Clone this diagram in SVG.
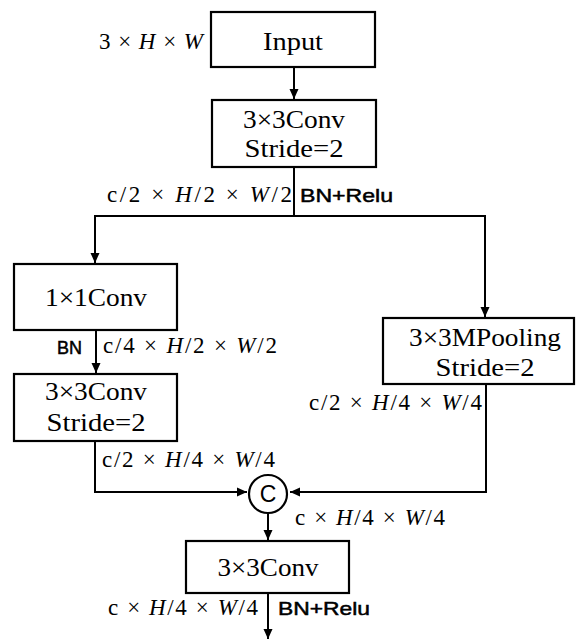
<svg xmlns="http://www.w3.org/2000/svg" width="576" height="639" viewBox="0 0 576 639">
<defs>
<marker id="ah" markerUnits="userSpaceOnUse" markerWidth="10" markerHeight="10" refX="10" refY="5" orient="auto">
<path d="M0,0.5 L10,5 L0,9.5 Z" fill="#000"/>
</marker>
<style>
.box{fill:#fff;stroke:#000;stroke-width:2.2}
.ln{fill:none;stroke:#000;stroke-width:2}
.t{font-family:"Liberation Serif",serif;font-size:25px;fill:#000;text-anchor:middle}
.m{font-family:"Liberation Serif",serif;font-size:23px;fill:#000}
.i{font-style:italic}
.s{font-family:"Liberation Sans",Arial,sans-serif;font-size:19px;fill:#000;stroke:#000;stroke-width:0.5}
</style>
</defs>
<rect width="576" height="639" fill="#fff"/>
<g id="connectors">
<line class="ln" x1="294" y1="67" x2="294" y2="99" marker-end="url(#ah)"/>
<polyline class="ln" points="294,167 294,216"/>
<polyline class="ln" points="485,216 95,216 95,263" marker-end="url(#ah)"/>
<line class="ln" x1="485" y1="215" x2="485" y2="317" marker-end="url(#ah)"/>
<line class="ln" x1="96" y1="330" x2="96" y2="373" marker-end="url(#ah)"/>
<polyline class="ln" points="95,441 95,492 247,492" marker-end="url(#ah)"/>
<polyline class="ln" points="486,384 486,492 290,492" marker-end="url(#ah)"/>
<line class="ln" x1="268" y1="513" x2="268" y2="540" marker-end="url(#ah)"/>
<line class="ln" x1="268" y1="593" x2="268" y2="639" marker-end="url(#ah)"/>
</g>
<g id="input">
<rect class="box" x="211" y="12" width="164" height="55"/>
<text class="t" x="293" y="50" font-size="27" textLength="60" lengthAdjust="spacingAndGlyphs">Input</text>
<text class="m" x="99" y="49" textLength="104" lengthAdjust="spacing">3 × <tspan class="i">H</tspan> × <tspan class="i">W</tspan></text>
</g>
<g id="conv1">
<rect class="box" x="212" y="100" width="164" height="67"/>
<text class="t" x="294" y="128" textLength="102" lengthAdjust="spacingAndGlyphs">3×3Conv</text>
<text class="t" x="294" y="157" textLength="99" lengthAdjust="spacingAndGlyphs">Stride=2</text>
<text class="m" x="107" y="202" textLength="185" lengthAdjust="spacing">c/2 × <tspan class="i">H</tspan>/2 × <tspan class="i">W</tspan>/2</text>
<text class="s" x="300" y="202" textLength="93" lengthAdjust="spacingAndGlyphs">BN+Relu</text>
</g>
<g id="conv1x1">
<rect class="box" x="14" y="264" width="163" height="66"/>
<text class="t" x="96" y="306" textLength="102" lengthAdjust="spacingAndGlyphs">1×1Conv</text>
<text class="s" x="57" y="354" font-size="17" textLength="25" lengthAdjust="spacingAndGlyphs">BN</text>
<text class="m" x="103" y="353" textLength="174" lengthAdjust="spacing">c/4 × <tspan class="i">H</tspan>/2 × <tspan class="i">W</tspan>/2</text>
</g>
<g id="conv3x3s2">
<rect class="box" x="14" y="374" width="163" height="67"/>
<text class="t" x="96" y="400" textLength="102" lengthAdjust="spacingAndGlyphs">3×3Conv</text>
<text class="t" x="96" y="431" textLength="99" lengthAdjust="spacingAndGlyphs">Stride=2</text>
<text class="m" x="102" y="467" textLength="173" lengthAdjust="spacing">c/2 × <tspan class="i">H</tspan>/4 × <tspan class="i">W</tspan>/4</text>
</g>
<g id="pooling">
<rect class="box" x="383" y="318" width="191" height="66"/>
<text class="t" x="485" y="346" textLength="152" lengthAdjust="spacingAndGlyphs">3×3MPooling</text>
<text class="t" x="485" y="376" textLength="99" lengthAdjust="spacingAndGlyphs">Stride=2</text>
<text class="m" x="309" y="410" textLength="173" lengthAdjust="spacing">c/2 × <tspan class="i">H</tspan>/4 × <tspan class="i">W</tspan>/4</text>
</g>
<g id="concat">
<circle cx="268" cy="494" r="19" fill="#fff" stroke="#000" stroke-width="2.2"/>
<text x="268" y="502" font-family="Liberation Sans,Arial,sans-serif" font-size="23" text-anchor="middle" fill="#000">C</text>
<text class="m" x="295" y="525" textLength="150" lengthAdjust="spacing">c × <tspan class="i">H</tspan>/4 × <tspan class="i">W</tspan>/4</text>
</g>
<g id="conv2">
<rect class="box" x="186" y="541" width="163" height="52"/>
<text class="t" x="268" y="576" textLength="101" lengthAdjust="spacingAndGlyphs">3×3Conv</text>
<text class="m" x="108" y="615" textLength="150" lengthAdjust="spacing">c × <tspan class="i">H</tspan>/4 × <tspan class="i">W</tspan>/4</text>
<text class="s" x="278" y="615" textLength="92" lengthAdjust="spacingAndGlyphs">BN+Relu</text>
</g>
</svg>
